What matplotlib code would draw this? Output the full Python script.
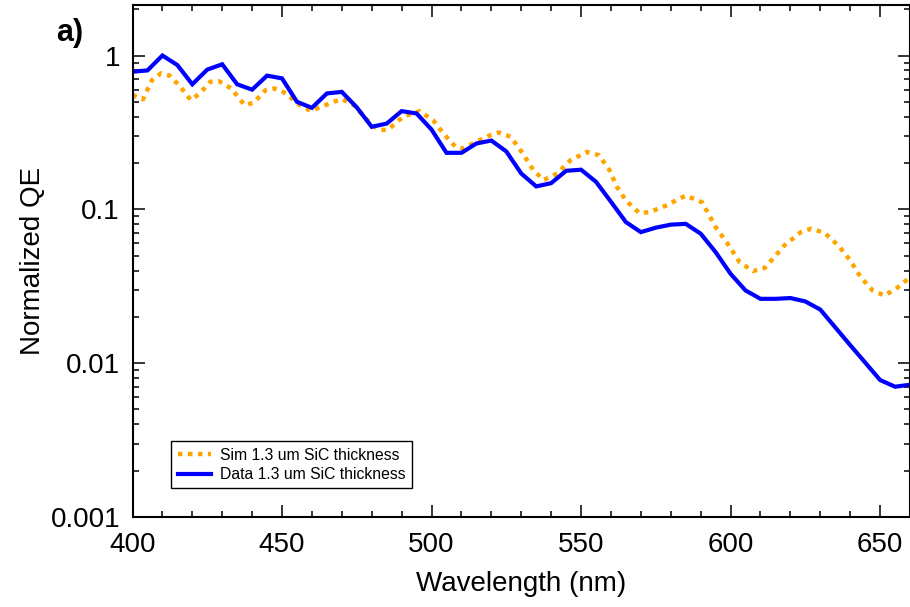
import matplotlib
matplotlib.use("Agg")
import matplotlib.pyplot as plt
from matplotlib.ticker import LogLocator, MultipleLocator, FixedLocator, NullFormatter

plt.rcParams['font.family'] = ['Liberation Sans', 'DejaVu Sans']

# Measured data (blue)
data_wl = [400, 405, 410, 415, 420, 425, 430, 435, 440, 445, 450, 455, 460, 465,
           470, 475, 480, 485, 490, 495, 500, 505, 510, 515, 520, 525, 530, 535,
           540, 545, 550, 555, 560, 565, 570, 575, 580, 585, 590, 595, 600, 605,
           610, 615, 620, 625, 630, 635, 640, 645, 650, 655, 660]
data_qe = [0.785, 0.80, 1.0, 0.867, 0.65, 0.81, 0.877, 0.65, 0.60, 0.74, 0.71, 0.50,
           0.457, 0.567, 0.58, 0.46, 0.344, 0.361, 0.435, 0.42, 0.33, 0.233, 0.233,
           0.268, 0.28, 0.238, 0.171, 0.141, 0.148, 0.178, 0.181, 0.151, 0.112,
           0.0826, 0.0711, 0.076, 0.0795, 0.0805, 0.0695, 0.0527, 0.0381, 0.0297,
           0.0262, 0.0262, 0.0265, 0.0252, 0.0223, 0.0171, 0.0131, 0.0101, 0.00777,
           0.00703, 0.00724]

# Simulation (orange)
sim_wl = [400, 403.5, 406.5, 409.5, 412.5, 416, 419.5, 422.5, 426, 429, 433, 437.5,
          440.5, 444.5, 447.5, 451.5, 455, 459.5, 463.5, 466.5, 470, 474, 479, 482.5,
          485.5, 490.5, 496, 500.5, 504, 508, 510.5, 515, 519.5, 522.5, 526.5, 530.5,
          534, 537.5, 542, 546.5, 552, 556, 559.5, 562, 565, 569.5, 573, 578.5, 585,
          590.5, 595, 599, 603, 607.5, 611.5, 618, 623.5, 627, 631.5, 636, 640, 643.5,
          647.5, 651.5, 656, 660]
sim_qe = [0.553, 0.519, 0.692, 0.766, 0.739, 0.626, 0.513, 0.567, 0.675, 0.68, 0.611,
          0.476, 0.493, 0.596, 0.611, 0.567, 0.489, 0.437, 0.466, 0.495, 0.522, 0.476,
          0.371, 0.327, 0.33, 0.40, 0.435, 0.38, 0.311, 0.255, 0.248, 0.275, 0.303,
          0.316, 0.296, 0.231, 0.18, 0.155, 0.171, 0.209, 0.236, 0.225, 0.18, 0.14,
          0.114, 0.0946, 0.096, 0.106, 0.123, 0.111, 0.0767, 0.0598, 0.0454, 0.0397,
          0.0417, 0.0583, 0.0711, 0.0749, 0.0701, 0.0583, 0.0466, 0.0362, 0.0297,
          0.0275, 0.0312, 0.0362]

sim_label = "Sim 1.3 um SiC thickness"
data_label = "Data 1.3 um SiC thickness"

fig = plt.figure(figsize=(9.1, 6.07), dpi=100)
ax = fig.add_axes([132.5 / 910, 90 / 607, (910 - 132.5) / 910, 512 / 607])

ax.plot(sim_wl, sim_qe, color='#FFA500', lw=3.2, linestyle=(0, (1, 1.25)),
        label=sim_label)
ax.plot(data_wl, data_qe, color='#0000FF', lw=3.0, label=data_label,
        solid_joinstyle='miter')

ax.set_yscale('log')
ax.set_xlim(400, 660)
ax.set_ylim(0.001, 2.13)

ax.xaxis.set_major_locator(MultipleLocator(50))
ax.xaxis.set_minor_locator(MultipleLocator(10))
ax.yaxis.set_major_locator(FixedLocator([0.001, 0.01, 0.1, 1]))
ax.set_yticklabels(['0.001', '0.01', '0.1', '1'])
ax.yaxis.set_minor_locator(LogLocator(base=10, subs=range(2, 10), numticks=20))
ax.yaxis.set_minor_formatter(NullFormatter())

ax.tick_params(which='both', direction='in', top=True, right=True, width=1.1,
               color='black')
ax.tick_params(which='major', length=8.6, labelsize=20)
ax.tick_params(axis='x', which='major', pad=11)
ax.tick_params(axis='y', which='major', pad=9)
ax.tick_params(which='minor', length=4.3)

for sp in ax.spines.values():
    sp.set_linewidth(1.5)
    sp.set_color('black')

ax.set_xlabel('Wavelength (nm)', fontsize=20, labelpad=9)
ax.set_ylabel('Normalized QE', fontsize=20, labelpad=3)

leg = ax.legend(loc='lower left', bbox_to_anchor=(0.05, 0.056), fontsize=11.3,
                frameon=True, fancybox=False, edgecolor='black', framealpha=1,
                handlelength=2.1, labelspacing=0.28, borderpad=0.4,
                handletextpad=0.6, borderaxespad=0)
leg.get_frame().set_linewidth(1.0)

fig.text(70 / 910, 1 - 33 / 607, 'a)', fontsize=22, fontweight='bold',
         ha='center', va='center')

fig.savefig('out.png', dpi=100)
